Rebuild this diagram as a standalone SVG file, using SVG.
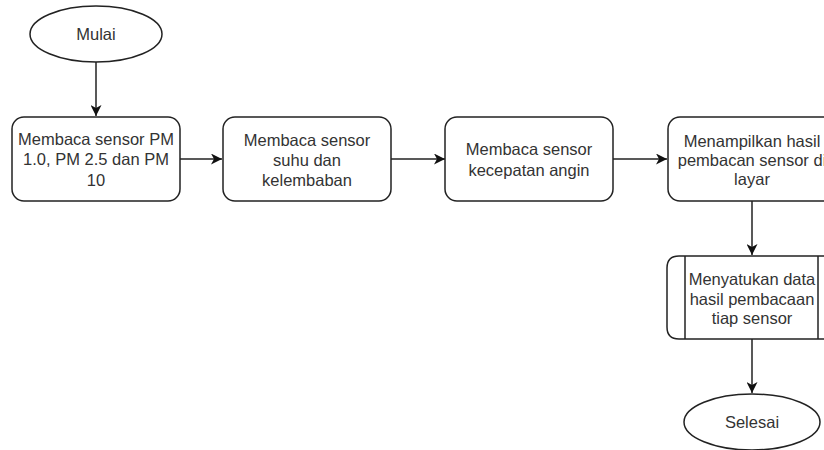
<svg xmlns="http://www.w3.org/2000/svg" width="824" height="450" viewBox="0 0 824 450">
<style>
.shape{fill:#fff;stroke:#222;stroke-width:1.5}
.edge{fill:none;stroke:#222;stroke-width:1.5}
text{font-family:"Liberation Sans",Arial,sans-serif;font-size:16.5px;fill:#333;text-anchor:middle;dominant-baseline:central}
</style>
<defs>
<marker id="arr" markerUnits="userSpaceOnUse" markerWidth="12" markerHeight="11" refX="11" refY="5.5" orient="auto">
<path d="M0,0 L11,5.5 L0,11 L3,5.5 Z" fill="#111"/>
</marker>
</defs>
<rect width="824" height="450" fill="#fff"/>
<g id="connectors">
<line class="edge" x1="96" y1="62" x2="96" y2="116" marker-end="url(#arr)"/>
<line class="edge" x1="180" y1="159" x2="222" y2="159" marker-end="url(#arr)"/>
<line class="edge" x1="391" y1="159" x2="445" y2="159" marker-end="url(#arr)"/>
<line class="edge" x1="613" y1="159" x2="667" y2="159" marker-end="url(#arr)"/>
<line class="edge" x1="752" y1="201" x2="752" y2="255" marker-end="url(#arr)"/>
<line class="edge" x1="752" y1="339" x2="752" y2="393" marker-end="url(#arr)"/>
</g>
<g id="mulai">
<ellipse class="shape" cx="96" cy="34" rx="66" ry="28"/>
<text x="96" y="34">Mulai</text>
</g>
<g id="baca-pm">
<rect class="shape" x="12" y="117" width="168" height="84" rx="12"/>
<text x="96" y="138.5">Membaca sensor PM</text>
<text x="96" y="159">1.0, PM 2.5 dan PM</text>
<text x="96" y="179.5">10</text>
</g>
<g id="baca-suhu">
<rect class="shape" x="223" y="117" width="168" height="84" rx="12"/>
<text x="307" y="140">Membaca sensor</text>
<text x="307" y="160">suhu dan</text>
<text x="307" y="180">kelembaban</text>
</g>
<g id="baca-angin">
<rect class="shape" x="445" y="117" width="168" height="84" rx="12"/>
<text x="529" y="149">Membaca sensor</text>
<text x="529" y="169.5">kecepatan angin</text>
</g>
<g id="tampil">
<rect class="shape" x="668" y="117" width="168" height="84" rx="12"/>
<text x="752" y="141">Menampilkan hasil</text>
<text x="752" y="160">pembacan sensor di</text>
<text x="752" y="179">layar</text>
</g>
<g id="satukan">
<path class="shape" d="M836,256 L679,256 Q667,256 667,268 L667,327 Q667,339 679,339 L836,339 Z"/>
<line class="shape" x1="685" y1="256" x2="685" y2="339"/>
<line class="shape" x1="818" y1="256" x2="818" y2="339"/>
<text x="752" y="279">Menyatukan data</text>
<text x="752" y="298.5">hasil pembacaan</text>
<text x="752" y="318">tiap sensor</text>
</g>
<g id="selesai">
<ellipse class="shape" cx="752" cy="422" rx="68" ry="28"/>
<text x="752" y="422">Selesai</text>
</g>
</svg>
